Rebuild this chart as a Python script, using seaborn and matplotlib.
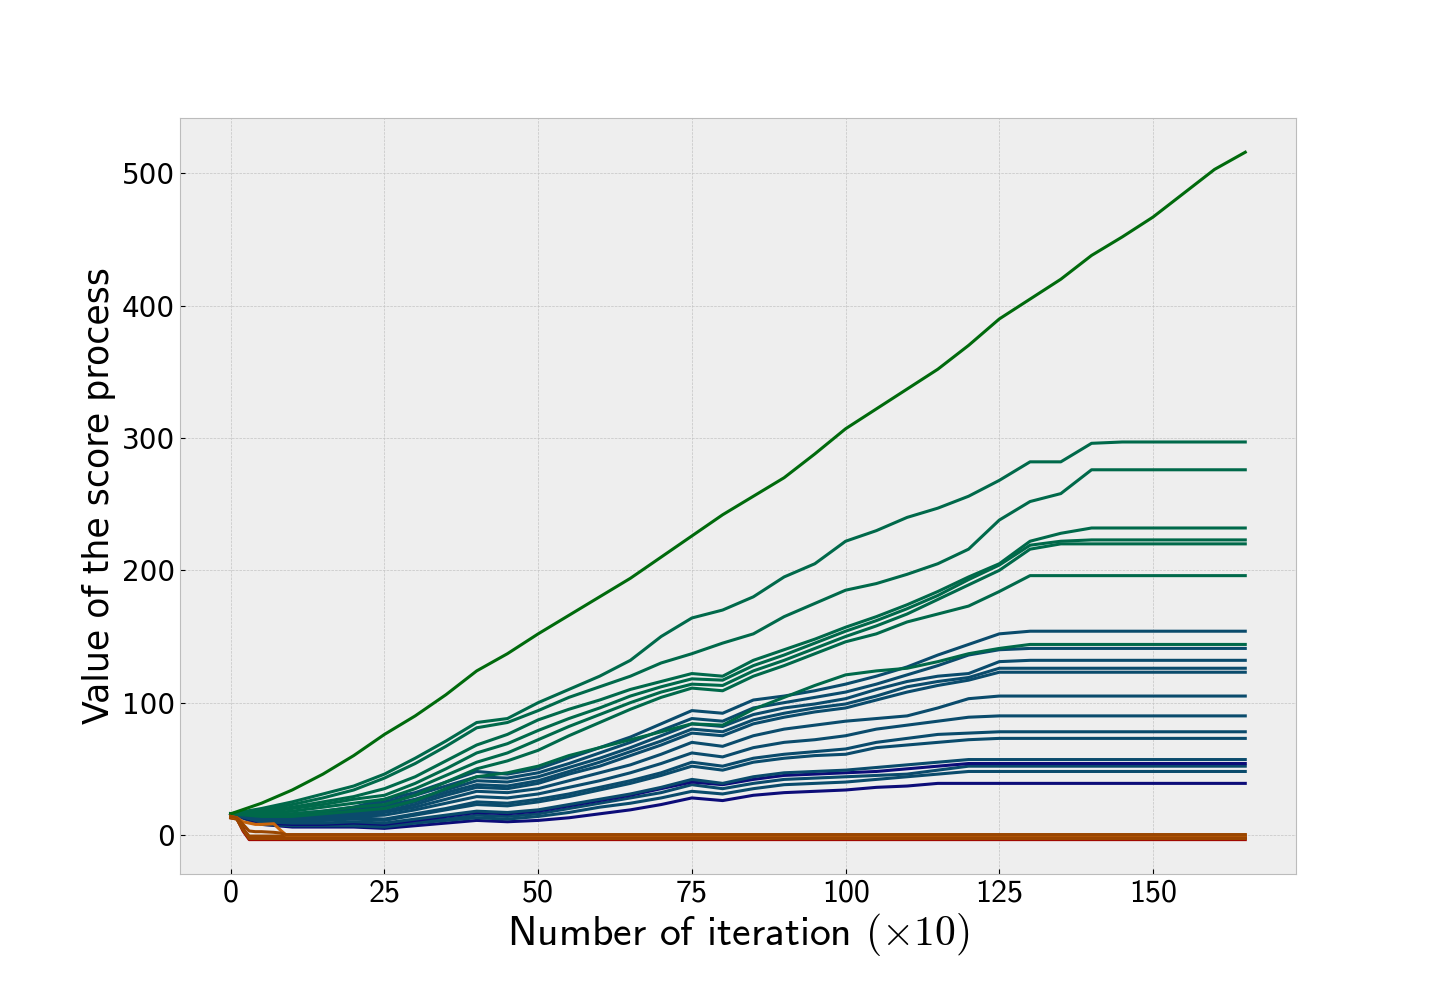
import pandas as pd
import matplotlib
matplotlib.use("Agg")
import matplotlib.pyplot as plt
import seaborn as sns

# iteration grid (x10) for the score processes
ITER = [0, 5, 10, 15, 20, 25, 30, 35, 40, 45, 50, 55, 60, 65, 70, 75, 80,
        85, 90, 95, 100, 105, 110, 115, 120, 125, 130, 135, 140, 145, 150,
        155, 160, 165]

# processes that stay positive
top = [16, 24, 34, 46, 60, 76, 90, 106, 124, 137, 152, 166, 180, 194, 210, 226, 242,
       256, 270, 288, 307, 322, 337, 352, 370, 390, 405, 420, 438, 452, 467,
       485, 503, 516]
g1 = [16, 20, 25, 31, 37, 46, 58, 71, 85, 88, 100, 110, 120, 132, 150, 164, 170,
      180, 195, 205, 222, 230, 240, 247, 256, 268, 282, 282, 296, 297, 297,
      297, 297, 297]
g2 = [16, 19, 23, 28, 34, 43, 54, 67, 81, 85, 94, 104, 112, 120, 130, 137, 145,
      152, 165, 175, 185, 190, 197, 205, 216, 238, 252, 258, 276, 276, 276,
      276, 276, 276]
g3 = [16, 18, 21, 25, 29, 35, 44, 56, 68, 76, 87, 95, 102, 110, 116, 122, 120,
      132, 140, 148, 157, 165, 174, 184, 195, 205, 222, 228, 232, 232, 232,
      232, 232, 232]
g4 = [16, 17, 20, 23, 27, 30, 39, 50, 62, 69, 79, 88, 96, 105, 112, 118, 117,
      128, 136, 145, 154, 162, 171, 181, 193, 204, 219, 222, 223, 223, 223,
      223, 223, 223]
g5 = [16, 16, 18, 21, 24, 27, 35, 45, 55, 62, 72, 82, 91, 100, 108, 114, 113,
      124, 132, 141, 150, 158, 167, 178, 189, 200, 216, 220, 220, 220, 220,
      220, 220, 220]
g6 = [16, 15, 16, 18, 21, 23, 30, 40, 50, 56, 64, 75, 85, 95, 104, 111, 109,
      120, 128, 137, 146, 152, 161, 167, 173, 184, 196, 196, 196, 196, 196,
      196, 196, 196]
g7 = [16, 14, 14, 16, 18, 20, 26, 35, 44, 47, 52, 60, 66, 72, 78, 84, 83,
      95, 104, 113, 121, 124, 126, 131, 137, 141, 144, 144, 144, 144, 144,
      144, 144, 144]
b1 = [16, 14, 16, 18, 21, 27, 32, 40, 48, 46, 50, 58, 66, 74, 84, 94, 92,
      102, 105, 109, 114, 120, 127, 136, 144, 152, 154, 154, 154, 154, 154,
      154, 154, 154]
b2 = [16, 14, 15, 17, 20, 25, 30, 37, 44, 43, 47, 54, 62, 70, 79, 88, 86,
      96, 100, 104, 108, 114, 121, 128, 136, 140, 141, 141, 141, 141, 141,
      141, 141, 141]
b3 = [16, 13, 14, 16, 19, 22, 27, 34, 41, 40, 44, 51, 58, 66, 75, 84, 82,
      91, 96, 99, 103, 110, 116, 120, 122, 131, 132, 132, 132, 132, 132,
      132, 132, 132]
b4 = [16, 13, 13, 15, 17, 20, 25, 32, 38, 37, 41, 48, 55, 63, 71, 80, 78,
      87, 92, 96, 99, 105, 112, 116, 119, 126, 126, 126, 126, 126, 126,
      126, 126, 126]
b5 = [16, 12, 13, 14, 16, 18, 23, 30, 36, 35, 39, 46, 52, 60, 68, 77, 75,
      84, 89, 93, 96, 102, 108, 113, 117, 123, 123, 123, 123, 123, 123,
      123, 123, 123]
b6 = [16, 12, 12, 13, 15, 17, 21, 27, 33, 32, 35, 41, 47, 53, 61, 70, 67,
      75, 80, 83, 86, 88, 90, 96, 103, 105, 105, 105, 105, 105, 105,
      105, 105, 105]
b7 = [16, 11, 11, 12, 14, 15, 19, 24, 29, 28, 31, 36, 41, 47, 54, 62, 59,
      66, 70, 72, 75, 80, 83, 86, 89, 90, 90, 90, 90, 90, 90,
      90, 90, 90]
b8 = [16, 11, 10, 11, 13, 12, 16, 20, 25, 24, 27, 31, 36, 41, 47, 55, 52,
      58, 61, 63, 65, 70, 73, 76, 77, 78, 78, 78, 78, 78, 78,
      78, 78, 78]
b9 = [16, 10, 10, 11, 12, 11, 15, 19, 23, 22, 25, 29, 34, 39, 45, 52, 49,
      55, 58, 60, 61, 66, 68, 70, 72, 73, 73, 73, 73, 73, 73,
      73, 73, 73]
b10 = [16, 10, 9, 9, 10, 9, 12, 15, 18, 17, 19, 23, 27, 31, 36, 42, 39,
       44, 47, 48, 49, 51, 53, 55, 57, 57, 57, 57, 57, 57, 57,
       57, 57, 57]
n1 = [16, 9, 8, 8, 9, 8, 11, 14, 17, 16, 18, 22, 26, 30, 35, 40, 38,
      42, 45, 46, 47, 48, 50, 52, 54, 54, 54, 54, 54, 54, 54,
      54, 54, 54]
b11 = [16, 9, 8, 8, 8, 7, 10, 12, 15, 14, 16, 20, 24, 28, 32, 38, 35,
       39, 42, 43, 44, 45, 46, 49, 52, 52, 52, 52, 52, 52, 52,
       52, 52, 52]
b12 = [16, 8, 7, 7, 7, 6, 9, 11, 13, 12, 14, 17, 21, 24, 28, 33, 31,
       35, 38, 39, 40, 42, 44, 46, 48, 48, 48, 48, 48, 48, 48,
       48, 48, 48]
n2 = [16, 8, 6, 6, 6, 5, 7, 9, 11, 10, 11, 13, 16, 19, 23, 28, 26,
      30, 32, 33, 34, 36, 37, 39, 39, 39, 39, 39, 39, 39, 39,
      39, 39, 39]

# processes that drop below zero early on
ITER_NEG = [0, 1, 2, 3, 4, 5, 7, 8, 9, 10, 165]
r1 = [13, 12.5, 3, -3.5, -3.5, -3.5, -3.5, -3.5, -3.5, -3.5, -3.5]
r2 = [13.5, 13, 5, -1.7, -1.7, -1.7, -1.7, -1.7, -1.7, -1.7, -1.7]
br3 = [13, 12, 4, -2.7, -2.7, -2.7, -2.7, -2.7, -2.7, -2.7, -2.7]
br2 = [13, 12, 4, -0.8, -0.8, -0.8, -0.8, -0.8, -0.8, -0.8, -0.8]
or1 = [14, 13, 10, 9, 8, 8, 8.5, 4, 0, 0, 0]
br1 = [14, 13, 8, 3, 2.5, 2.5, 2, 1.5, 0.3, 0.3, 0.3]

GREEN_TOP = "#006a0c"
GREEN = "#00694a"
BLUE = "#0a4b6c"
NAVY = "#0c0c78"
ORANGE = "#c8650c"
BROWN = "#9a4600"
RED = "#a00400"

positive = [
    ("n2", n2, NAVY), ("b12", b12, BLUE), ("b11", b11, BLUE), ("n1", n1, NAVY),
    ("b10", b10, BLUE), ("b9", b9, BLUE), ("b8", b8, BLUE), ("b7", b7, BLUE),
    ("b6", b6, BLUE), ("b5", b5, BLUE), ("b4", b4, BLUE), ("b3", b3, BLUE),
    ("b2", b2, BLUE), ("b1", b1, BLUE), ("g7", g7, GREEN), ("g6", g6, GREEN),
    ("g5", g5, GREEN), ("g4", g4, GREEN), ("g3", g3, GREEN), ("g2", g2, GREEN),
    ("g1", g1, GREEN), ("top", top, GREEN_TOP),
]
negative = [
    ("r1", r1, RED), ("r2", r2, RED), ("br3", br3, BROWN), ("br2", br2, BROWN),
    ("or1", or1, ORANGE), ("br1", br1, BROWN),
]

rows = []
for name, vals, _ in positive:
    rows += [(name, x, v) for x, v in zip(ITER, vals)]
for name, vals, _ in negative:
    rows += [(name, x, v) for x, v in zip(ITER_NEG, vals)]
df = pd.DataFrame(rows, columns=["series", "iteration", "score"])

palette = {name: c for name, _, c in positive + negative}
order = [name for name, _, _ in positive + negative]

plt.style.use("bmh")
plt.rcParams["mathtext.fontset"] = "cm"
plt.rcParams["axes.unicode_minus"] = False
plt.rcParams["grid.color"] = "#c4c4c4"

fig, ax = plt.subplots(figsize=(14.4, 9.82), dpi=100)
fig.subplots_adjust(left=0.125, right=0.9, bottom=0.11, top=0.88)

sns.lineplot(data=df, x="iteration", y="score", hue="series", hue_order=order,
             palette=palette, estimator=None, sort=True, legend=False,
             linewidth=2.2, ax=ax)

ax.set_xticks([0, 25, 50, 75, 100, 125, 150])
ax.set_yticks([0, 100, 200, 300, 400, 500])
ax.tick_params(axis="both", labelsize=20, colors="black")
for lbl in ax.get_xticklabels():
    lbl.set_fontfamily("cmss10")
    lbl.set_fontsize(23)

ax.set_xlabel(r"Number of iteration $(\times 10)$", fontsize=30,
              fontfamily="cmss10", color="black", labelpad=2)
ax.set_ylabel("Value of the score process", fontsize=25, color="black")

fig.savefig("out.png", dpi=100, facecolor="white")
